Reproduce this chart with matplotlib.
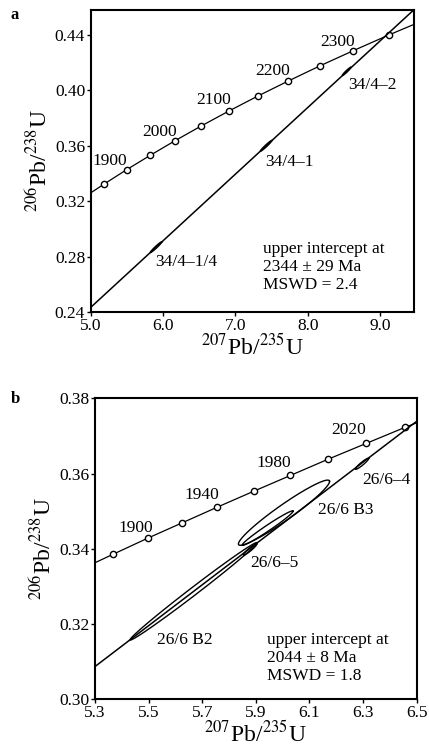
import numpy as np
import matplotlib
matplotlib.use("Agg")
import matplotlib.pyplot as plt

plt.rcParams['font.family'] = 'serif'
plt.rcParams['font.serif'] = ['Liberation Serif', 'DejaVu Serif']
plt.rcParams['mathtext.fontset'] = 'stix'

#************************ Data: panel a ************************
conc_a_x = [5.000, 5.184, 5.496, 5.824, 6.169, 6.530, 6.910, 7.310, 7.729, 8.170, 8.633, 9.119, 9.470]
conc_a_y = [0.3261, 0.3324, 0.3428, 0.3532, 0.3638, 0.3744, 0.3851, 0.3959, 0.4067, 0.4177, 0.4287, 0.4399, 0.4476]
ages_a = [1900, 2000, 2100, 2200, 2300]
age_lab_a = [(5.267, 0.3491), (5.958, 0.3700), (6.705, 0.3931), (7.521, 0.4140), (8.420, 0.4350)]
disc_a_x = [5.0, 9.47]
disc_a_y = [0.2435, 0.4582]
ell_a_names = ['34/4–1/4', '34/4–1', '34/4–2']
ell_a_cx = [5.903, 7.425, 8.538]
ell_a_cy = [0.2869, 0.3600, 0.4137]
ell_a_dx = [0.08, 0.08, 0.06]
ell_a_dy = [0.0038, 0.0038, 0.0029]
ell_a_h = [0.0009, 0.0009, 0.0008]
name_lab_a = [(5.889, 0.2763), (7.411, 0.3484), (8.559, 0.4039)]
note_a = "upper intercept at\n2344 ± 29 Ma\nMSWD = 2.4"

#************************ Data: panel b ************************
conc_b_x = [5.300, 5.369, 5.496, 5.625, 5.757, 5.892, 6.029, 6.169, 6.311, 6.457, 6.500]
conc_b_y = [0.3363, 0.3386, 0.3428, 0.3469, 0.3511, 0.3553, 0.3595, 0.3638, 0.3680, 0.3723, 0.3735]
ages_b = [1900, 1940, 1980, 2020]
age_lab_b = [(5.453, 0.3455), (5.699, 0.3543), (5.968, 0.3628), (6.247, 0.3716)]
disc_b_x = [5.3, 6.5]
disc_b_y = [0.3087, 0.3739]
ell_b_names = ['26/6 B2', '26/6 B3', '', '26/6–5', '26/6–4']
ell_b_cx = [5.6675, 6.005, 5.944, 5.878, 6.296]
ell_b_cy = [0.3287, 0.3496, 0.3455, 0.3398, 0.3626]
ell_b_dx = [0.2369, 0.170, 0.095, 0.025, 0.025]
ell_b_dy = [0.0129, 0.0083, 0.0045, 0.0014, 0.0014]
ell_b_h = [0.0013, 0.0025, 0.0009, 0.0005, 0.0005]
name_lab_b = [(5.531, 0.3158), (6.132, 0.3503), None, (5.878, 0.3363), (6.296, 0.3583)]
note_b = "upper intercept at\n2044 ± 8 Ma\nMSWD = 1.8"

fs = 12.5
t = np.linspace(0, 2*np.pi, 200)

def draw_panel(ax, cx, cy, ages, age_lab, dx_, dy_, ex, ey, edx, edy, eh, names, name_lab, note, note_xy):
    ax.plot(cx, cy, color='black', lw=0.9)
    ax.plot(cx[1:-1], cy[1:-1], 'o', ms=4.5, mfc='white', mec='black', mew=1.0)
    ax.plot(dx_, dy_, color='black', lw=1.1)
    for i in range(len(ex)):
        xs = ex[i] + edx[i]*np.cos(t)
        ys = ey[i] + edy[i]*np.cos(t) + eh[i]*np.sin(t)
        ax.plot(xs, ys, color='black', lw=1.0)
    for a, (x, y) in zip(ages, age_lab):
        ax.text(x, y, str(a), ha='center', va='center', fontsize=fs)
    for n, p in zip(names, name_lab):
        if p is None:
            continue
        ax.text(p[0], p[1], n, ha='left', va='center', fontsize=fs)
    ax.text(note_xy[0], note_xy[1], note, ha='left', va='center', fontsize=fs, linespacing=1.15)
    ax.tick_params(direction='out', length=3, width=1, labelsize=fs, pad=1)
    for s in ax.spines.values():
        s.set_linewidth(1.5)
    ax.set_xlabel(r'$^{207}$Pb/$^{235}$U', fontsize=17, labelpad=0)
    ax.set_ylabel(r'$^{206}$Pb/$^{238}$U', fontsize=17, labelpad=2)

fig = plt.figure(figsize=(4.29, 7.55), dpi=100)

ax1 = fig.add_axes([0.2114, 0.5864, 0.7536, 0.4004])
draw_panel(ax1, conc_a_x, conc_a_y, ages_a, age_lab_a, disc_a_x, disc_a_y,
           ell_a_cx, ell_a_cy, ell_a_dx, ell_a_dy, ell_a_h, ell_a_names, name_lab_a,
           note_a, (7.385, 0.2727))
ax1.set_xlim(5.0, 9.47)
ax1.set_ylim(0.24, 0.458)
ax1.set_xticks([5.0, 6.0, 7.0, 8.0, 9.0])
ax1.set_xticklabels(['5.0', '6.0', '7.0', '8.0', '9.0'])
ax1.set_yticks([0.24, 0.28, 0.32, 0.36, 0.40, 0.44])
ax1.set_yticklabels(['0.24', '0.28', '0.32', '0.36', '0.40', '0.44'])

ax2 = fig.add_axes([0.2214, 0.0738, 0.7499, 0.3986])
draw_panel(ax2, conc_b_x, conc_b_y, ages_b, age_lab_b, disc_b_x, disc_b_y,
           ell_b_cx, ell_b_cy, ell_b_dx, ell_b_dy, ell_b_h, ell_b_names, name_lab_b,
           note_b, (5.942, 0.3110))
ax2.set_xlim(5.3, 6.5)
ax2.set_ylim(0.30, 0.38)
ax2.set_xticks([5.3, 5.5, 5.7, 5.9, 6.1, 6.3, 6.5])
ax2.set_yticks([0.30, 0.32, 0.34, 0.36, 0.38])

fig.text(15/429, 1-15/755, 'a', fontsize=12, fontweight='bold', ha='center', va='center')
fig.text(15/429, 1-399/755, 'b', fontsize=12, fontweight='bold', ha='center', va='center')

fig.savefig('out.png', dpi=100)
